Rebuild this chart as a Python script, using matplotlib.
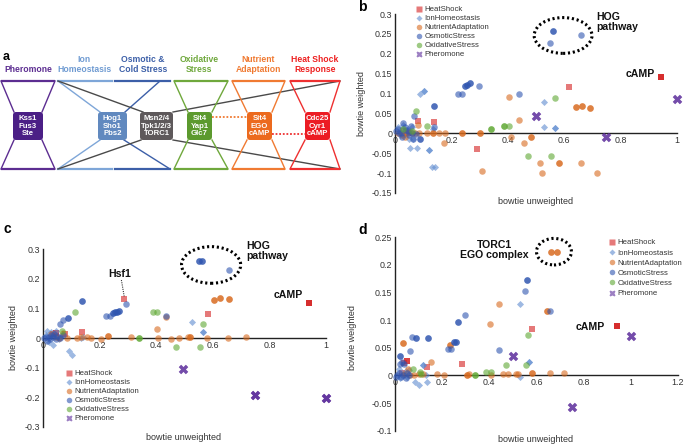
import numpy as np
import matplotlib
matplotlib.use('Agg')
import matplotlib.pyplot as plt
from matplotlib.patches import Ellipse, FancyBboxPatch
from matplotlib.lines import Line2D

plt.rcParams['font.family'] = ['Liberation Sans', 'DejaVu Sans']

W, H = 685, 445

categories = ['HeatShock', 'IonHomeostasis', 'NutrientAdaptation',
              'OsmoticStress', 'OxidativeStress', 'Pheromone']
cat_colors = ['#D42020', '#5D8BD0', '#D86A1E', '#2F55B0', '#5EA832', '#5A2A9A']
cat_markers = ['s', 'D', 'o', 'o', 'o', 'X']
cat_sizes = [20, 13, 22, 22, 22, 46]

# ---- panel b : bowtie weighted vs unweighted (points listed twice/three times overlap)
b_heat = [(0.083, 0.031), (0.139, 0.028), (0.29, -0.039), (0.617, 0.117),
          (0.945, 0.142), (0.945, 0.142), (0.945, 0.142), (0.03, 0.005), (0.045, 0.002)]
b_ion = [(0.01, 0.015), (0.02, 0.008), (0.03, 0.02), (0.045, 0.012), (0.06, 0.015),
         (0.028, 0.0), (0.04, -0.005), (0.05, -0.015), (0.065, -0.014), (0.018, -0.004),
         (0.053, -0.037), (0.078, -0.037), (0.121, -0.042), (0.121, -0.042),
         (0.13, -0.084), (0.142, -0.085), (0.089, 0.099), (0.104, 0.107), (0.104, 0.107),
         (0.528, 0.08), (0.528, 0.015), (0.567, 0.013), (0.567, 0.013), (0.135, 0.01)]
b_nutrient = [(0.01, 0.0), (0.025, -0.005), (0.04, 0.0), (0.05, 0.003), (0.06, 0.0),
              (0.07, 0.002), (0.08, 0.022), (0.085, 0.0), (0.035, -0.01),
              (0.112, 0.0), (0.136, 0.0), (0.136, 0.0), (0.157, 0.0), (0.177, 0.0),
              (0.236, 0.0), (0.236, 0.0), (0.302, 0.0), (0.302, 0.0), (0.175, -0.025),
              (0.31, -0.094), (0.403, 0.092), (0.44, 0.033), (0.41, -0.008), (0.457, -0.025),
              (0.483, -0.008), (0.483, -0.008), (0.514, -0.074), (0.523, -0.099),
              (0.581, -0.074), (0.581, -0.074), (0.641, 0.065), (0.641, 0.065),
              (0.664, 0.069), (0.664, 0.069), (0.691, 0.064), (0.691, 0.064),
              (0.658, -0.074), (0.717, -0.099)]
b_osmotic = [(0.005, 0.005), (0.012, 0.012), (0.02, 0.0), (0.03, 0.025), (0.035, 0.015),
             (0.045, 0.005), (0.055, 0.018), (0.05, -0.005), (0.025, -0.008), (0.015, 0.002),
             (0.04, 0.008), (0.06, 0.0), (0.065, -0.014), (0.089, -0.014), (0.089, -0.014),
             (0.075, -0.002), (0.139, 0.068), (0.139, 0.068), (0.067, 0.044), (0.139, 0.015),
             (0.225, 0.098), (0.236, 0.098), (0.248, 0.12), (0.248, 0.12), (0.256, 0.122),
             (0.256, 0.122), (0.265, 0.126), (0.265, 0.126), (0.299, 0.119), (0.44, 0.098),
             (0.561, 0.258), (0.561, 0.258), (0.551, 0.226), (0.658, 0.246)]
b_oxidative = [(0.074, 0.055), (0.115, 0.019), (0.342, 0.012), (0.342, 0.012),
               (0.386, 0.018), (0.386, 0.018), (0.405, 0.018), (0.567, 0.09),
               (0.472, -0.057), (0.553, -0.057), (0.03, 0.01), (0.06, 0.005)]
b_pheromone = [(0.499, 0.044), (0.499, 0.044), (0.75, -0.008), (0.75, -0.008),
               (1.0, 0.087), (1.0, 0.087)]

# ---- panel c
c_heat = [(0.036, 0.014), (0.045, 0.018), (0.045, 0.018), (0.078, 0.014), (0.137, 0.021),
          (0.285, 0.131), (0.584, 0.08), (0.94, 0.117), (0.94, 0.117), (0.94, 0.117)]
c_ion = [(0.015, 0.025), (0.03, 0.02), (0.045, 0.025), (0.035, -0.023), (0.055, -0.005),
         (0.065, 0.008), (0.02, -0.015), (0.01, 0.01), (0.14, 0.005), (0.092, -0.043),
         (0.101, -0.057), (0.527, 0.054), (0.566, 0.019), (0.566, 0.019), (0.135, 0.0)]
c_nutrient = [(0.03, 0.012), (0.045, 0.005), (0.055, 0.0), (0.07, 0.018), (0.085, 0.0),
              (0.12, 0.0), (0.136, 0.002), (0.156, 0.003), (0.171, 0.0), (0.206, -0.005),
              (0.23, 0.008), (0.23, 0.008), (0.31, 0.005), (0.407, 0.0), (0.454, -0.002),
              (0.481, 0.0), (0.513, 0.002), (0.519, 0.005), (0.519, 0.005), (0.578, 0.0),
              (0.654, 0.0), (0.716, 0.003), (0.403, 0.03), (0.436, 0.07), (0.605, 0.129),
              (0.605, 0.129), (0.627, 0.134), (0.627, 0.134), (0.656, 0.131), (0.656, 0.131)]
c_osmotic = [(0.005, 0.0), (0.012, 0.005), (0.02, 0.002), (0.03, 0.01), (0.04, 0.015),
             (0.025, -0.005), (0.035, 0.003), (0.05, 0.008), (0.015, -0.01), (0.045, -0.005),
             (0.06, 0.0), (0.07, 0.01), (0.552, 0.262), (0.552, 0.262), (0.562, 0.262),
             (0.562, 0.262), (0.656, 0.23), (0.295, 0.115), (0.224, 0.074), (0.236, 0.074),
             (0.248, 0.086), (0.248, 0.086), (0.255, 0.087), (0.255, 0.087), (0.262, 0.087),
             (0.262, 0.087), (0.269, 0.092), (0.269, 0.092), (0.138, 0.125), (0.138, 0.125),
             (0.088, 0.067), (0.088, 0.067), (0.071, 0.061), (0.061, 0.047), (0.436, 0.075)]
c_oxidative = [(0.114, 0.087), (0.067, 0.024), (0.387, 0.087), (0.404, 0.087),
               (0.566, 0.047), (0.469, -0.029), (0.554, -0.029), (0.34, 0.0), (0.34, 0.0)]
c_pheromone = [(0.495, -0.104), (0.495, -0.104), (0.75, -0.192), (0.75, -0.192),
               (0.75, -0.192), (1.0, -0.202), (1.0, -0.202), (1.0, -0.202)]

# ---- panel d
d_heat = [(0.583, 0.084), (0.943, 0.09), (0.943, 0.09), (0.943, 0.09), (0.285, 0.021),
          (0.137, 0.015), (0.049, 0.027), (0.049, 0.027), (0.04, 0.022), (0.03, 0.004)]
d_ion = [(0.53, 0.129), (0.568, 0.024), (0.568, 0.024), (0.53, -0.003), (0.085, -0.011),
         (0.103, -0.017), (0.134, -0.012), (0.12, 0.018), (0.12, 0.018), (0.015, 0.012),
         (0.03, 0.005), (0.045, 0.008), (0.05, -0.003), (0.02, -0.005), (0.06, 0.01),
         (0.13, 0.0)]
d_nutrient = [(0.66, 0.223), (0.66, 0.223), (0.688, 0.223), (0.688, 0.223), (0.439, 0.13),
              (0.643, 0.117), (0.643, 0.117), (0.403, 0.094), (0.233, 0.055), (0.233, 0.055),
              (0.035, 0.058), (0.035, 0.058), (0.153, 0.024), (0.306, 0.0), (0.306, 0.0),
              (0.313, 0.003), (0.405, 0.0), (0.456, 0.002), (0.48, 0.002), (0.515, 0.003),
              (0.522, 0.002), (0.582, 0.004), (0.582, 0.004), (0.657, 0.004), (0.718, 0.005),
              (0.177, 0.002), (0.208, 0.0), (0.12, 0.003), (0.1, 0.002), (0.08, 0.0),
              (0.04, 0.003), (0.055, 0.012), (0.065, 0.0)]
d_osmotic = [(0.561, 0.172), (0.561, 0.172), (0.552, 0.153), (0.657, 0.117), (0.298, 0.109),
             (0.267, 0.096), (0.267, 0.096), (0.25, 0.06), (0.25, 0.06), (0.258, 0.06),
             (0.258, 0.06), (0.226, 0.047), (0.236, 0.047), (0.442, 0.046), (0.071, 0.07),
             (0.089, 0.067), (0.089, 0.067), (0.138, 0.068), (0.138, 0.068), (0.064, 0.044),
             (0.021, 0.035), (0.021, 0.035), (0.01, 0.0), (0.02, 0.02), (0.03, 0.025),
             (0.04, 0.02), (0.015, 0.005), (0.025, -0.003), (0.05, 0.005), (0.06, 0.0),
             (0.005, -0.002), (0.035, 0.0), (0.045, -0.004)]
d_oxidative = [(0.566, 0.074), (0.47, 0.018), (0.555, 0.019), (0.386, 0.007),
               (0.405, 0.007), (0.339, 0.001), (0.339, 0.001), (0.075, 0.012),
               (0.105, 0.006), (0.11, 0.002)]
d_pheromone = [(1.0, 0.072), (1.0, 0.072), (0.499, 0.035), (0.499, 0.035),
               (0.751, -0.058), (0.751, -0.058)]

# ---- panel a : bowtie diagram text
module_names = ['Pheromone', 'Ion\nHomeostasis', 'Osmotic &\nCold Stress',
                'Oxidative\nStress', 'Nutrient\nAdaptation', 'Heat Shock\nResponse']
knot_genes = ['Kss1\nFus3\nSte', 'Hog1\nSho1\nPbs2', 'Msn2/4\nTpk1/2/3\nTORC1',
              'Sit4\nYap1\nGlc7', 'Sit4\nEGO\ncAMP', 'Cdc25\nCyr1\ncAMP']

narrow = ['Liberation Sans Narrow', 'Liberation Sans', 'DejaVu Sans']


def px_rect(x0, y0, x1, y1):
    # figure-pixel box (top-left origin) -> fig fraction rect
    return [x0 / W, 1 - y1 / H, (x1 - x0) / W, (y1 - y0) / H]


def scatter_panel(ax, series):
    for pts, color, marker, size in zip(series, cat_colors, cat_markers, cat_sizes):
        xs, ys = zip(*pts)
        ax.scatter(xs, ys, s=size, c=color, marker=marker, alpha=0.6,
                   linewidths=0, clip_on=False, zorder=3)


def style_axes(ax, xmax, ymin, ymax, ystep):
    ax.set_xlim(0, xmax)
    ax.set_ylim(ymin, ymax)
    ax.patch.set_alpha(0)
    for s in ['top', 'right']:
        ax.spines[s].set_visible(False)
    ax.spines['bottom'].set_position(('data', 0))
    for s in ['bottom', 'left']:
        ax.spines[s].set_linewidth(1.0)
        ax.spines[s].set_color('#222222')
    ax.set_xticks(np.round(np.arange(0, xmax + 1e-9, 0.2), 2))
    ax.set_yticks(np.round(np.arange(ymin, ymax + 1e-9, ystep), 2))
    ax.xaxis.set_major_formatter(lambda v, p: '{:g}'.format(round(v, 2)))
    ax.yaxis.set_major_formatter(lambda v, p: '{:g}'.format(round(v, 2)))
    ax.tick_params(length=0, labelsize=6.4, colors='#333333', pad=2)


def add_legend(ax, left_px, top_px, spacing):
    handles = [Line2D([], [], ls='none', marker=m, color=c, alpha=0.6, mec='none',
                      markersize=(np.sqrt(s) * (0.85 if m != 'X' else 0.65)))
               for m, c, s in zip(cat_markers, cat_colors, cat_sizes)]
    ax.legend(handles, categories, loc='upper left',
              bbox_to_anchor=(left_px / W, 1 - top_px / H), bbox_transform=fig.transFigure,
              frameon=False, fontsize=5.6, handlelength=0.7, handletextpad=0.35,
              labelspacing=spacing, borderaxespad=0, borderpad=0, labelcolor='#333333')


def dotted_ellipse(ax, cx, cy, w, h):
    ax.add_patch(Ellipse((cx, cy), w, h, fill=False, ec='black', lw=2.2,
                         ls=(0, (0.7, 0.9)), zorder=4, clip_on=False))


fig = plt.figure(figsize=(W / 100, H / 100), dpi=100)
bold = dict(fontweight='bold', color='#111111')

# ---------------- panel a
axa = fig.add_axes(px_rect(0, 50, 342, 178))
axa.set_xlim(0, 342)
axa.set_ylim(178, 50)
axa.axis('off')
yt, yb, kt, kb = 81, 169, 112, 140


def bowtie(x0, x1, k0, k1, color, lw=1.0):
    axa.plot([x0, x1], [yt, yt], color=color, lw=1.6, solid_capstyle='butt')
    axa.plot([x0, x1], [yb, yb], color=color, lw=1.6, solid_capstyle='butt')
    axa.plot([x0, k0], [yt, kt], color=color, lw=lw)
    axa.plot([x1, k1], [yt, kt], color=color, lw=lw)
    axa.plot([x0, k0], [yb, kb], color=color, lw=lw)
    axa.plot([x1, k1], [yb, kb], color=color, lw=lw)


bowtie(1, 55, 14, 42, '#5C2D91')
axa.plot([58, 112], [yt, yt], color='#7EA6D8', lw=1.6)
axa.plot([58, 112], [yb, yb], color='#7EA6D8', lw=1.6)
axa.plot([115, 170], [yt, yt], color='#3C5FA8', lw=1.6)
axa.plot([115, 170], [yb, yb], color='#3C5FA8', lw=1.6)
axa.plot([58, 100], [yt, kt], color='#7EA6D8', lw=1.0)
axa.plot([58, 100], [yb, kb], color='#7EA6D8', lw=1.0)
axa.plot([160, 125], [yt, kt], color='#3C5FA8', lw=1.0)
axa.plot([170, 124], [yb, kb], color='#3C5FA8', lw=1.0)
axa.plot([58, 143], [yt, kt], color='#4A4A4A', lw=1.0)
axa.plot([58, 141], [yb, kb], color='#4A4A4A', lw=1.0)
axa.plot([173, 340], [kt, yt], color='#4A4A4A', lw=1.0)
axa.plot([173, 340], [kb, yb], color='#4A4A4A', lw=1.0)
bowtie(174, 228, 188, 212, '#6FA83C')
bowtie(232, 285, 247, 272, '#F07A32')
bowtie(290, 340, 305, 330, '#EE3030')
axa.plot([212, 247], [117, 117], color='#F07A32', lw=1.3, ls=(0, (1, 1)))
axa.plot([272, 305], [134, 134], color='#EE3030', lw=1.3, ls=(0, (1, 1)))

label_x = [28, 84, 143, 199, 258, 315]
label_c = ['#5C2D91', '#6F9BD2', '#3C5FA8', '#6FA83C', '#F07A32', '#EE2020']
for name, x, c in zip(module_names, label_x, label_c):
    axa.text(x, 74, name, ha='center', va='bottom', fontsize=6.2, fontweight='bold',
             color=c, linespacing=1.1, family=narrow)

knot_x = [(13, 43), (98, 127), (140, 173), (187, 212), (247, 272), (305, 330)]
knot_c = ['#4B1F86', '#6189BF', '#5E595B', '#5C9A2E', '#EC6A1E', '#EC1C24']
for genes, (k0, k1), c in zip(knot_genes, knot_x, knot_c):
    axa.add_patch(FancyBboxPatch((k0 + 2, kt + 2), k1 - k0 - 4, kb - kt - 4,
                                 boxstyle='round,pad=2,rounding_size=3',
                                 fc=c, ec='none', zorder=5))
    axa.text((k0 + k1) / 2, (kt + kb) / 2, genes, ha='center', va='center',
             fontsize=5.6, fontweight='bold', color='white', zorder=6, linespacing=1.05,
             family=narrow)

fig.text(3 / W, 1 - 57 / H, 'a', fontsize=9, fontweight='bold', va='center')

# ---------------- panel b
axb = fig.add_axes(px_rect(395, 14, 677, 193))
style_axes(axb, 1.0, -0.15, 0.3, 0.05)
scatter_panel(axb, [b_heat, b_ion, b_nutrient, b_osmotic, b_oxidative, b_pheromone])
dotted_ellipse(axb, 0.596, 0.246, 0.205, 0.09)
axb.text(0.714, 0.306, 'HOG\npathway', ha='left', va='top', fontsize=7.6,
         linespacing=1.0, **bold)
axb.text(0.92, 0.149, 'cAMP', ha='right', va='center', fontsize=7.6, **bold)
add_legend(axb, 416, 6, 0.2)
fig.text(536 / W, 1 - 202 / H, 'bowtie unweighted', ha='center', va='center',
         fontsize=6.5, color='#333333')
fig.text(362 / W, 1 - 104 / H, 'bowtie weighted', ha='center', va='center',
         rotation=90, fontsize=6.5, color='#333333')
fig.text(358 / W, 1 - 7 / H, 'b', fontsize=10, fontweight='bold', va='center')

# ---------------- panel c
axc = fig.add_axes(px_rect(43, 249.3, 326, 426.7))
style_axes(axc, 1.0, -0.3, 0.3, 0.1)
scatter_panel(axc, [c_heat, c_ion, c_nutrient, c_osmotic, c_oxidative, c_pheromone])
dotted_ellipse(axc, 0.594, 0.247, 0.209, 0.124)
axc.text(0.717, 0.329, 'HOG\npathway', ha='left', va='top', fontsize=7.6,
         linespacing=1.0, **bold)
axc.text(0.92, 0.145, 'cAMP', ha='right', va='center', fontsize=7.6, **bold)
axc.text(0.271, 0.215, 'Hsf1', ha='center', va='center', fontsize=7.6, **bold)
axc.plot([0.277, 0.287], [0.196, 0.14], color='#333333', lw=0.8, ls=(0, (1, 1)))
add_legend(axc, 66, 370, 0.2)
fig.text(184 / W, 1 - 438 / H, 'bowtie unweighted', ha='center', va='center',
         fontsize=6.5, color='#333333')
fig.text(13 / W, 1 - 338 / H, 'bowtie weighted', ha='center', va='center',
         rotation=90, fontsize=6.5, color='#333333')
fig.text(3 / W, 1 - 229 / H, 'c', fontsize=10, fontweight='bold', va='center')

# ---------------- panel d
axd = fig.add_axes(px_rect(395, 237.3, 678, 430.7))
style_axes(axd, 1.2, -0.1, 0.25, 0.05)
scatter_panel(axd, [d_heat, d_ion, d_nutrient, d_osmotic, d_oxidative, d_pheromone])
dotted_ellipse(axd, 0.674, 0.224, 0.148, 0.048)
axd.text(0.42, 0.245, 'TORC1\nEGO complex', ha='center', va='top', fontsize=7.6,
         linespacing=1.0, **bold)
axd.text(0.89, 0.088, 'cAMP', ha='right', va='center', fontsize=7.6, **bold)
add_legend(axd, 609, 239, 0.35)
fig.text(536 / W, 1 - 439 / H, 'bowtie unweighted', ha='center', va='center',
         fontsize=6.5, color='#333333')
fig.text(353 / W, 1 - 338 / H, 'bowtie weighted', ha='center', va='center',
         rotation=90, fontsize=6.5, color='#333333')
fig.text(358 / W, 1 - 230 / H, 'd', fontsize=10, fontweight='bold', va='center')

fig.savefig('out.png', dpi=100)
